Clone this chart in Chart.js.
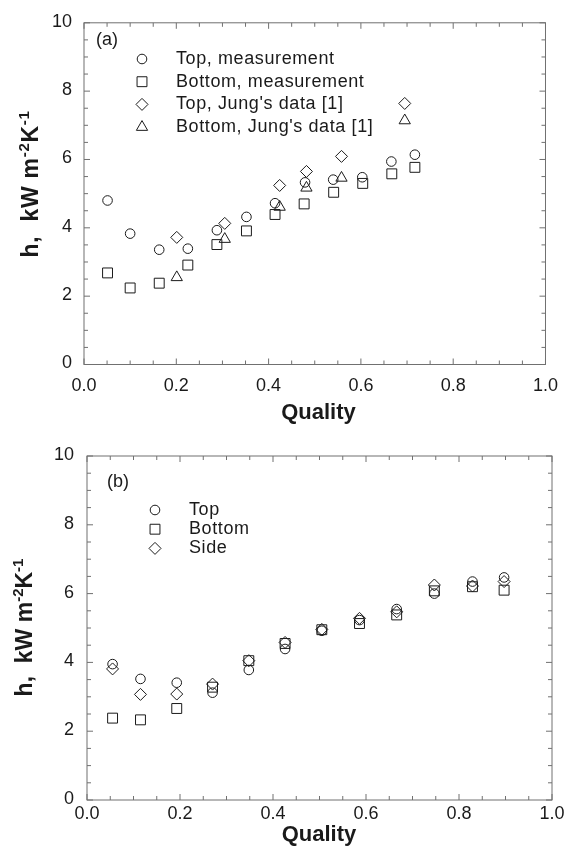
<!DOCTYPE html>
<html>
<head>
<meta charset="utf-8">
<script src="https://cdn.jsdelivr.net/npm/chart.js@4.4.1/dist/chart.umd.min.js"></script>
<style>
  body { margin: 0; background: #fff; }
  .panel { position: absolute; left: 0; width: 569px; height: 427px; }
</style>
</head>
<body>
<div class="panel" style="top:0"><canvas id="chartA" width="569" height="427"></canvas></div>
<div class="panel" style="top:427px"><canvas id="chartB" width="569" height="427"></canvas></div>
<script>
// ---- panel (a) ----
const qualityMeasA = [0.051, 0.100, 0.163, 0.225, 0.288, 0.352, 0.414, 0.479, 0.540, 0.603, 0.666, 0.717];
const hTopMeasA = [4.80, 3.83, 3.36, 3.39, 3.93, 4.32, 4.72, 5.33, 5.41, 5.48, 5.94, 6.14];
const qualityBotMeasA = [0.051, 0.100, 0.163, 0.225, 0.288, 0.352, 0.414, 0.477, 0.541, 0.604, 0.667, 0.717];
const hBotMeasA = [2.68, 2.24, 2.38, 2.91, 3.51, 3.91, 4.39, 4.70, 5.04, 5.30, 5.58, 5.77];
const qualityJungA = [0.201, 0.305, 0.424, 0.482, 0.558, 0.695];
const hTopJungA = [3.72, 4.13, 5.24, 5.65, 6.09, 7.64];
const hBotJungA = [2.55, 3.67, 4.61, 5.17, 5.46, 7.14];

// ---- panel (b) ----
const qualityB = [0.055, 0.115, 0.193, 0.270, 0.348, 0.426, 0.505, 0.586, 0.666, 0.747, 0.829, 0.897];
const hTopB = [3.95, 3.52, 3.41, 3.12, 3.78, 4.39, 4.92, 5.23, 5.55, 6.00, 6.35, 6.47];
const hBottomB = [2.38, 2.33, 2.66, 3.28, 4.05, 4.55, 4.95, 5.13, 5.38, 6.08, 6.20, 6.10];
const hSideB = [3.81, 3.07, 3.08, 3.37, 4.05, 4.58, 4.96, 5.28, 5.47, 6.25, 6.22, 6.35];

const xTickValues = [0, 0.2, 0.4, 0.6, 0.8, 1.0];
const yTickValues = [0, 2, 4, 6, 8, 10];

const FONT = "'Liberation Sans', Arial, Helvetica, sans-serif";
const INK = "#1a1a1a";
const FRAME = "#707070";

const MARKERS = {
  circle: { pointStyle: "circle", radius: 4.8 },
  square: { pointStyle: "rect", radius: 7 },
  diamond: { pointStyle: "rectRot", radius: 6 },
  triangle: { pointStyle: "triangle", radius: 6.5 },
};

function pts(xs, ys) {
  return xs.map((x, i) => ({ x: x, y: ys[i] }));
}

function series(label, xs, ys, marker) {
  const m = MARKERS[marker];
  return {
    label: label,
    data: pts(xs, ys),
    pointStyle: m.pointStyle,
    pointRadius: m.radius,
    pointHoverRadius: m.radius,
    pointBorderWidth: 1,
    borderColor: INK,
    backgroundColor: "rgba(0,0,0,0)",
    showLine: false,
  };
}

function drawMarker(ctx, marker, x, y) {
  const m = MARKERS[marker];
  ctx.save();
  ctx.strokeStyle = INK;
  ctx.fillStyle = "rgba(0,0,0,0)";
  ctx.lineWidth = 1;
  Chart.helpers.drawPoint(ctx, { pointStyle: m.pointStyle, radius: m.radius, borderWidth: 1, rotation: 0 }, x, y);
  ctx.restore();
}

// frame with inward ticks on all four sides, legend and axis titles
const framePlugin = {
  id: "frameTicks",
  beforeDatasetsDraw(chart) {
    const { ctx, chartArea: a, scales } = chart;
    ctx.save();
    ctx.strokeStyle = FRAME;
    ctx.lineWidth = 1;
    ctx.strokeRect(a.left, a.top, a.right - a.left, a.bottom - a.top);
    ctx.beginPath();
    for (let i = 0; i <= 20; i++) {
      const px = scales.x.getPixelForValue(i * 0.05);
      const len = i % 4 === 0 ? 6 : 4;
      ctx.moveTo(px, a.bottom); ctx.lineTo(px, a.bottom - len);
      ctx.moveTo(px, a.top); ctx.lineTo(px, a.top + len);
    }
    for (let i = 0; i <= 20; i++) {
      const py = scales.y.getPixelForValue(i * 0.5);
      const len = i % 4 === 0 ? 6 : 4;
      ctx.moveTo(a.left, py); ctx.lineTo(a.left + len, py);
      ctx.moveTo(a.right, py); ctx.lineTo(a.right - len, py);
    }
    ctx.stroke();
    ctx.restore();
  },
  afterDraw(chart) {
    const o = chart.options.plugins.frameTicks;
    const ctx = chart.ctx;
    ctx.save();
    ctx.fillStyle = INK;

    // panel label
    ctx.font = `18px ${FONT}`;
    ctx.textAlign = "left";
    ctx.textBaseline = "middle";
    ctx.fillText(o.panel, o.panelX, o.panelY);

    // legend
    ctx.letterSpacing = "0.6px";
    o.legend.forEach((item, i) => {
      const y = o.legendY + i * o.legendStep;
      drawMarker(ctx, item.marker, o.legendMarkX, y);
      ctx.fillStyle = INK;
      ctx.fillText(item.text, o.legendTextX, y);
    });
    ctx.letterSpacing = "0px";

    // x title
    ctx.font = `bold 22px ${FONT}`;
    ctx.textAlign = "center";
    ctx.textBaseline = "alphabetic";
    ctx.fillText("Quality", o.xTitleX, o.xTitleY);

    // y title with superscripts
    const parts = [
      { t: "h,  kW m", sup: false },
      { t: "-2", sup: true },
      { t: "K", sup: false },
      { t: "-1", sup: true },
    ];
    const fMain = `bold 23px ${FONT}`;
    const fSup = `bold 15px ${FONT}`;
    ctx.letterSpacing = o.yTitleSpacing;
    let w = 0;
    parts.forEach((p) => { ctx.font = p.sup ? fSup : fMain; w += ctx.measureText(p.t).width; });
    ctx.translate(o.yTitleX, o.yTitleY);
    ctx.rotate(-Math.PI / 2);
    ctx.textAlign = "left";
    let x = -w / 2;
    parts.forEach((p) => {
      ctx.font = p.sup ? fSup : fMain;
      ctx.fillText(p.t, x, p.sup ? -9 : 0);
      x += ctx.measureText(p.t).width;
    });
    ctx.restore();
  },
};

function makeChart(id, datasets, box, extra) {
  const h = 427;
  return new Chart(document.getElementById(id), {
    type: "scatter",
    data: { datasets: datasets },
    options: {
      responsive: false,
      animation: false,
      events: [],
      layout: { padding: { left: 0, top: box.top, right: 569 - box.right, bottom: 0 } },
      plugins: {
        legend: { display: false },
        tooltip: { enabled: false },
        frameTicks: extra,
      },
      scales: {
        x: {
          type: "linear",
          min: 0,
          max: 1,
          afterBuildTicks: (s) => { s.ticks = xTickValues.map((v) => ({ value: v })); },
          afterFit: (s) => { s.height = h - box.bottom; },
          ticks: {
            callback: (v) => v.toFixed(1),
            font: { family: FONT, size: 18 },
            color: INK,
            padding: box.xPad,
            maxRotation: 0,
            autoSkip: false,
          },
          grid: { display: false, drawTicks: false },
          border: { display: false },
        },
        y: {
          type: "linear",
          min: 0,
          max: 10,
          afterBuildTicks: (s) => { s.ticks = yTickValues.map((v) => ({ value: v })); },
          afterFit: (s) => { s.width = box.left; },
          ticks: {
            callback: (v) => String(v),
            font: { family: FONT, size: 18 },
            color: INK,
            padding: box.yPad,
            labelOffset: -1,
            autoSkip: false,
          },
          grid: { display: false, drawTicks: false },
          border: { display: false },
        },
      },
    },
    plugins: [framePlugin],
  });
}

makeChart("chartA", [
  series("Top, measurement", qualityMeasA, hTopMeasA, "circle"),
  series("Bottom, measurement", qualityBotMeasA, hBotMeasA, "square"),
  series("Top, Jung's data [1]", qualityJungA, hTopJungA, "diamond"),
  series("Bottom, Jung's data [1]", qualityJungA, hBotJungA, "triangle"),
], { left: 84, right: 549, top: 20.5, bottom: 364.5, yPad: 12, xPad: 11 }, {
  panel: "(a)", panelX: 96, panelY: 40,
  legend: [
    { text: "Top, measurement", marker: "circle" },
    { text: "Bottom, measurement", marker: "square" },
    { text: "Top, Jung's data [1]", marker: "diamond" },
    { text: "Bottom, Jung's data [1]", marker: "triangle" },
  ],
  legendMarkX: 142, legendTextX: 176, legendY: 59, legendStep: 22.7,
  xTitleX: 318.5, xTitleY: 419,
  yTitleX: 37.5, yTitleY: 184, yTitleSpacing: "0.7px",
});

makeChart("chartB", [
  series("Top", qualityB, hTopB, "circle"),
  series("Bottom", qualityB, hBottomB, "square"),
  series("Side", qualityB, hSideB, "diamond"),
], { left: 87, right: 552, top: 29, bottom: 373, yPad: 13, xPad: 3 }, {
  panel: "(b)", panelX: 107, panelY: 55,
  legend: [
    { text: "Top", marker: "circle" },
    { text: "Bottom", marker: "square" },
    { text: "Side", marker: "diamond" },
  ],
  legendMarkX: 155, legendTextX: 189, legendY: 83, legendStep: 19.2,
  xTitleX: 319, xTitleY: 414,
  yTitleX: 32.3, yTitleY: 200.5, yTitleSpacing: "0px",
});
</script>
</body>
</html>
